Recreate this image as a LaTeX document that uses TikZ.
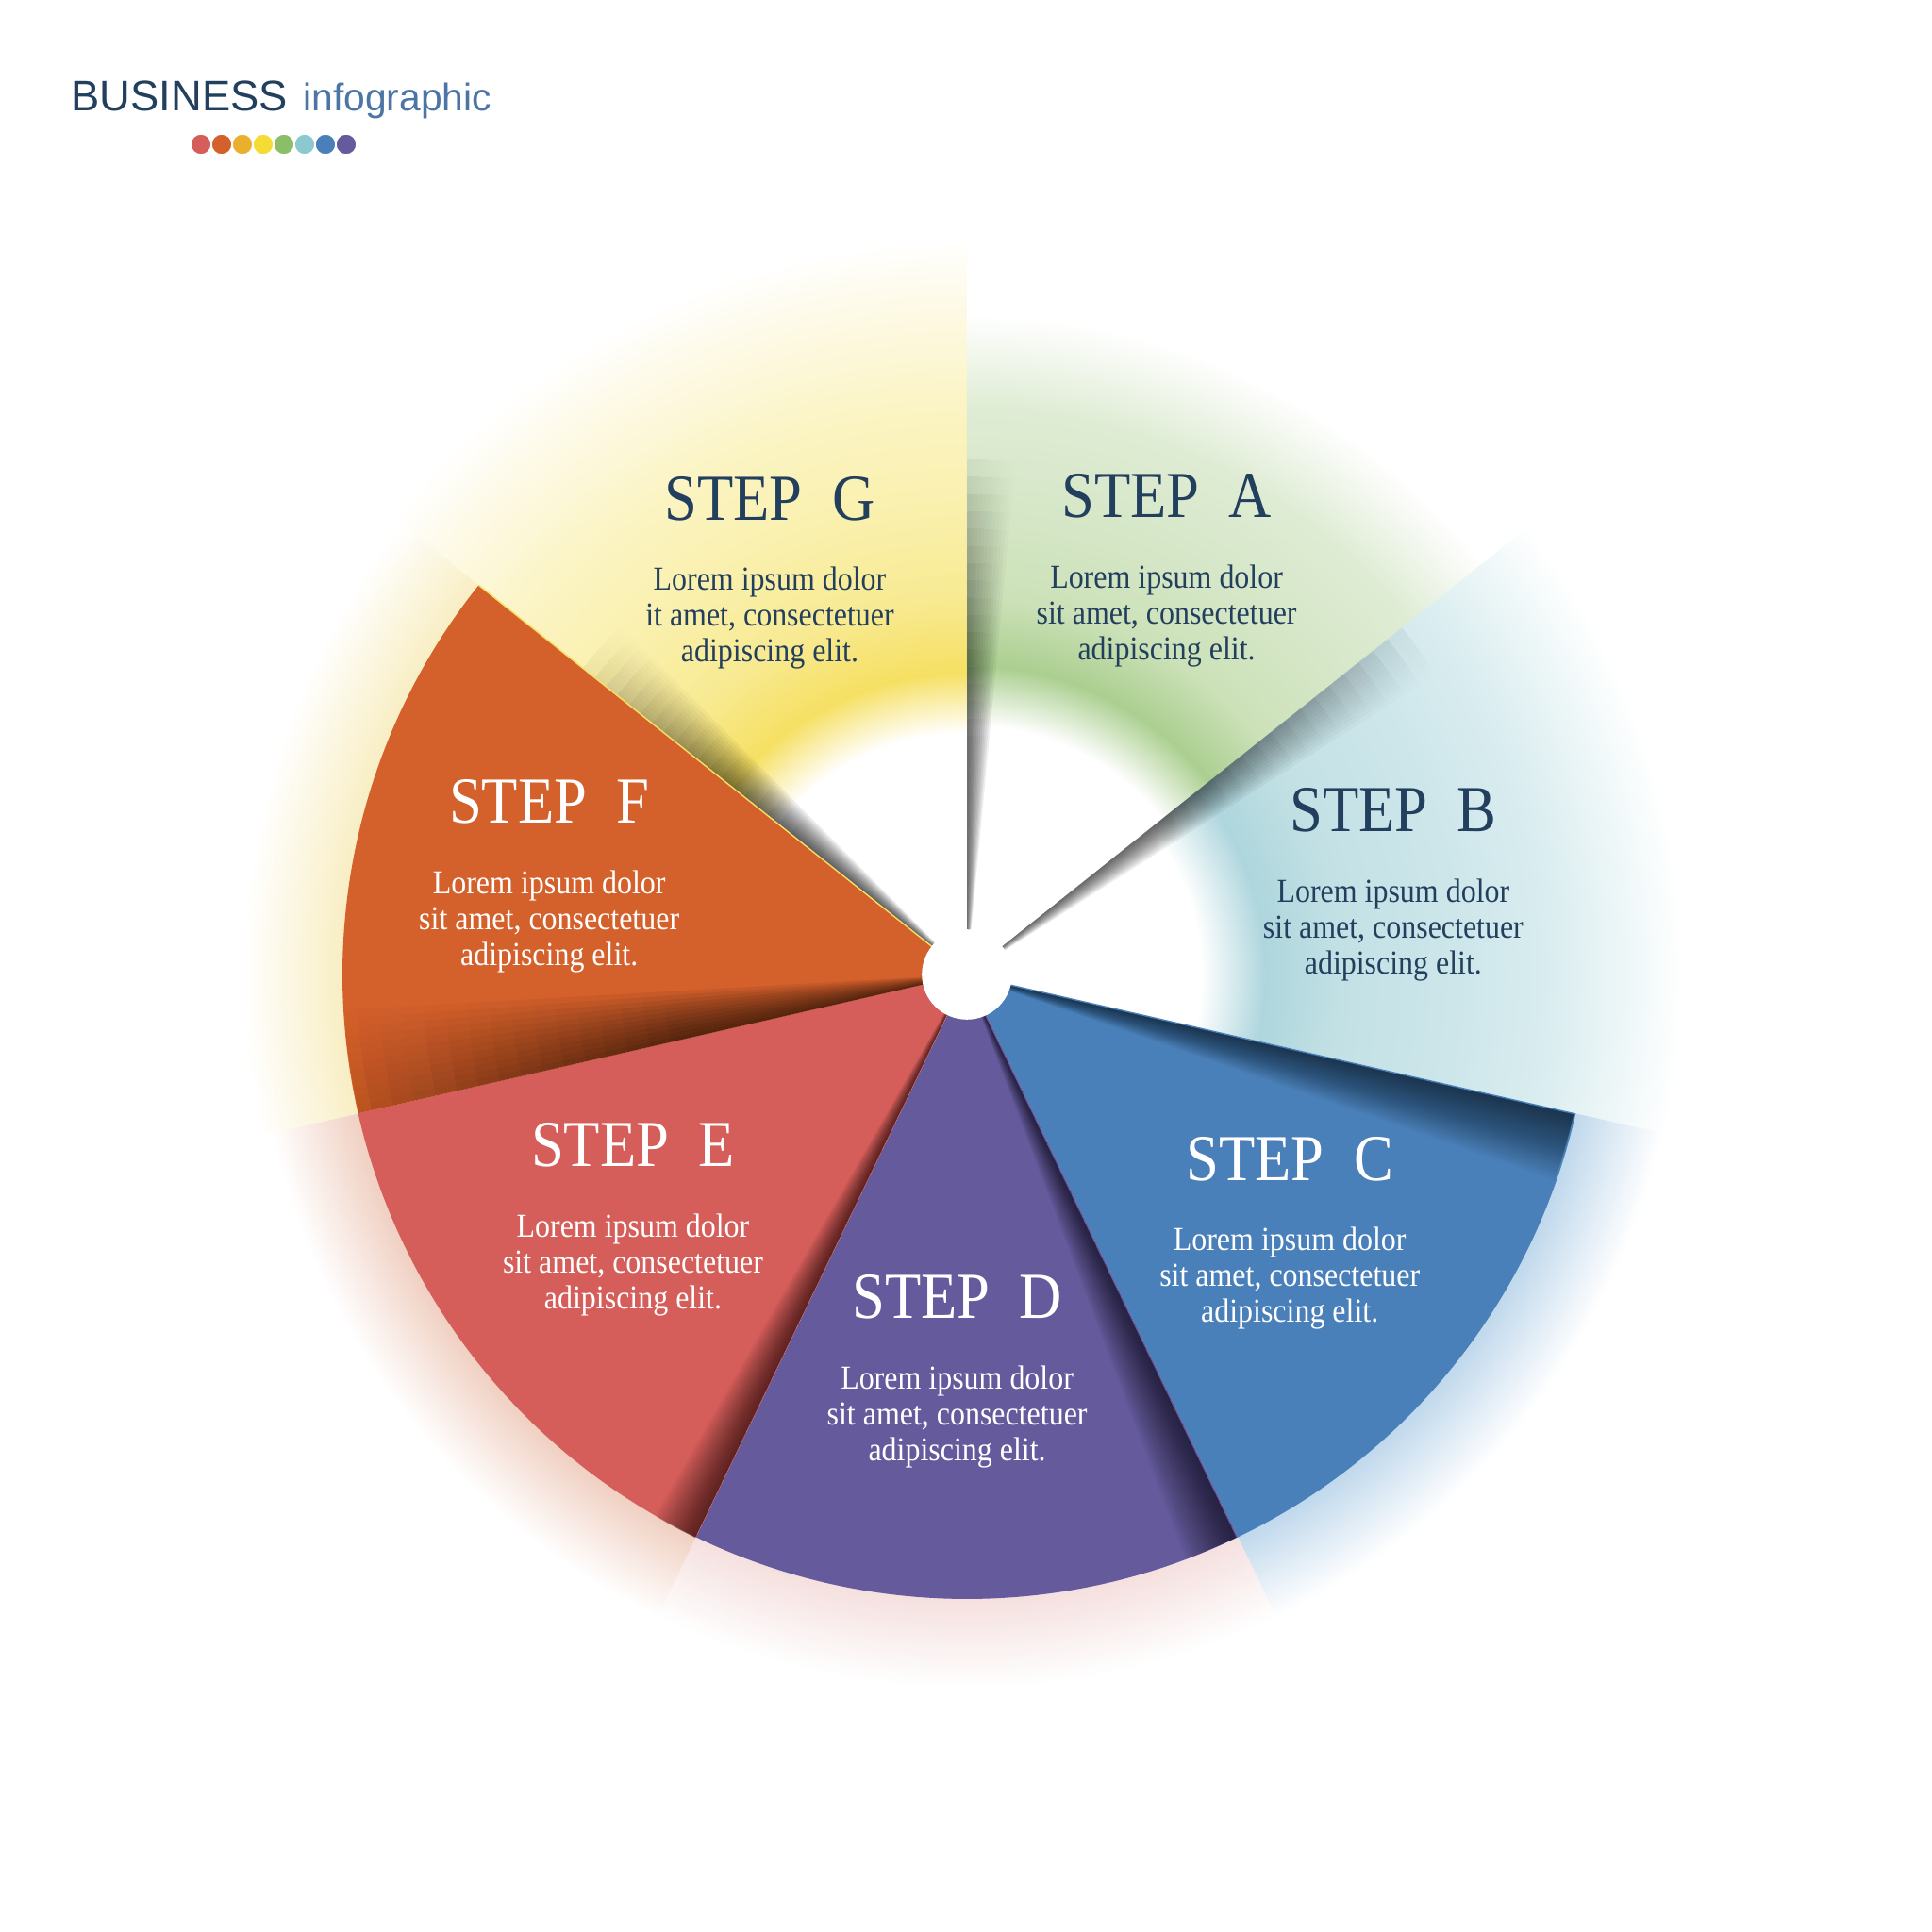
\documentclass[tikz,border=0pt]{standalone}
\usepackage{fontspec}
\usepackage{xcolor}
\usepackage{tikz}
\usetikzlibrary{positioning,fadings}
\setmainfont{Liberation Serif}
\newfontfamily\stepfont[FakeStretch=0.9]{Liberation Serif}
\newfontfamily\headfont{Liberation Sans}

\definecolor{navy}{HTML}{233F5E}
\definecolor{infoblue}{HTML}{4C75A5}
\definecolor{segC}{HTML}{4A80BA}
\definecolor{segD}{HTML}{655A9C}
\definecolor{segE}{HTML}{D55E5A}
\definecolor{segF}{HTML}{D4602B}
\definecolor{dotR}{HTML}{D65E5A}
\definecolor{dotO}{HTML}{D4602B}
\definecolor{dotAm}{HTML}{EBAF30}
\definecolor{dotY}{HTML}{F5DC35}
\definecolor{dotG}{HTML}{8BBE68}
\definecolor{dotCy}{HTML}{8CC8CF}
\definecolor{dotB}{HTML}{4A7FBA}
\definecolor{dotP}{HTML}{645A9C}
\definecolor{yelA}{HTML}{F6E063}
\definecolor{yelB}{HTML}{F8EA92}
\definecolor{yelC}{HTML}{FAF0AE}
\definecolor{yelD}{HTML}{FBF4C3}
\definecolor{yelE}{HTML}{FDF9E3}
\definecolor{grnA}{HTML}{ABCF90}
\definecolor{grnB}{HTML}{CCE1B8}
\definecolor{grnC}{HTML}{D6E7C8}
\definecolor{grnD}{HTML}{DFECD4}
\definecolor{cyaA}{HTML}{AED6DD}
\definecolor{cyaB}{HTML}{C3E1E5}
\definecolor{cyaC}{HTML}{CDE6EA}
\definecolor{cyaD}{HTML}{DAEDF0}
\definecolor{cyaE}{HTML}{EEF7F8}
\definecolor{hC}{HTML}{BCD6EB}
\definecolor{hD}{HTML}{F4DEDD}
\definecolor{hE}{HTML}{EFCDBE}
\definecolor{hF}{HTML}{F8EDC0}

\pgfdeclareradialshading{haloG}{\pgfpoint{0bp}{0bp}}{color(0bp)=(white); color(6.4bp)=(white);
  color(8bp)=(yelA); color(10bp)=(yelB); color(12.5bp)=(yelC); color(15bp)=(yelD);
  color(17.5bp)=(yelE); color(19.5bp)=(white); color(50bp)=(white)}
\pgfdeclareradialshading{haloA}{\pgfpoint{0bp}{0bp}}{color(0bp)=(white); color(6.6bp)=(white);
  color(8.2bp)=(grnA); color(10bp)=(grnB); color(12.5bp)=(grnC); color(15bp)=(grnD);
  color(17.5bp)=(white); color(50bp)=(white)}
\pgfdeclareradialshading{haloB}{\pgfpoint{0bp}{0bp}}{color(0bp)=(white); color(6.2bp)=(white);
  color(7.9bp)=(cyaA); color(10bp)=(cyaB); color(13bp)=(cyaC); color(15.5bp)=(cyaD);
  color(17.5bp)=(cyaE); color(19bp)=(white); color(50bp)=(white)}
\pgfdeclareradialshading{haloC}{\pgfpoint{0bp}{0bp}}{color(0bp)=(hC); color(16.4bp)=(hC);
  color(18.9bp)=(white); color(50bp)=(white)}
\pgfdeclareradialshading{haloD}{\pgfpoint{0bp}{0bp}}{color(0bp)=(hD); color(16.4bp)=(hD);
  color(18.9bp)=(white); color(50bp)=(white)}
\pgfdeclareradialshading{haloE}{\pgfpoint{0bp}{0bp}}{color(0bp)=(hE); color(16.4bp)=(hE);
  color(18.9bp)=(white); color(50bp)=(white)}
\pgfdeclareradialshading{haloF}{\pgfpoint{0bp}{0bp}}{color(0bp)=(hF); color(16.4bp)=(hF);
  color(19.2bp)=(white); color(50bp)=(white)}
\pgfdeclareradialshading{shfadeshade}{\pgfpoint{0bp}{0bp}}{color(0bp)=(white); color(11bp)=(white);
  color(25bp)=(black); color(50bp)=(black)}
\pgfdeclarefading{shfade}{\pgfuseshading{shfadeshade}}

\begin{document}
\begin{tikzpicture}[
  stitle/.style={font=\stepfont\fontsize{19.8}{22}\selectfont, inner sep=0pt},
  sbody/.style={font=\stepfont\fontsize{10.1}{10.8}\selectfont, align=center, inner sep=0pt},
  dot/.style={circle, draw=white, line width=0.3pt, minimum size=2.16mm, inner sep=0pt}]
\useasboundingbox (-10.25,-10.15) rectangle (10.23,10.33);
\fill[white] (-10.25,-10.15) rectangle (10.23,10.33);
\foreach \s/\e/\h in {90/141.429/haloG, 38.571/90/haloA, -12.857/38.571/haloB,
    -64.286/-12.857/haloC, -115.714/-64.286/haloD, -167.143/-115.714/haloE,
    -218.571/-167.143/haloF}{
  \begin{scope}
    \clip (0,0) -- (\s:12) arc[start angle=\s, end angle=\e, radius=12] -- cycle;
    \shade[shading=\h] (0,0) circle (10);
  \end{scope}
}
\foreach \s/\e/\c in {-64.286/-12.857/segC, -115.714/-64.286/segD,
    -167.143/-115.714/segE, -218.571/-167.143/segF}
  \fill[\c] (0,0) -- (\s:6.62) arc[start angle=\s, end angle=\e, radius=6.62] -- cycle;
\foreach \a/\rr/\d/\o/\sc/\n in {90/6.0/0.45/0.065/6.3/12, 38.571/6.2/0.5/0.065/6.8/12,
    141.429/5.8/0.55/0.075/6.0/12, -12.857/6.61/0.21/0.023/30/30, -64.286/6.61/0.17/0.023/30/30,
    -115.714/6.61/0.14/0.023/30/30, 192.857/6.61/0.8/0.065/8/12}
  \foreach \k in {1,...,\n}
    \fill[black, opacity=\o, path fading=shfade, fit fading=false, fading transform={scale=\sc}]
      (0,0) -- (\a:\rr) arc[start angle=\a, end angle=\a-\k*\d, radius=\rr] -- cycle;
\draw[yelA, line width=0.4pt] (0,0) -- (141.429:6.62);
\node[circle, fill=white, minimum size=9.56mm, inner sep=0pt] (hole) at (0,0) {};

\node[stitle, text=navy, anchor=base] (tG) at (-2.09,4.82) {STEP~~G};
\node[sbody, text=navy, below=0.495cm of tG.base] (bG) {Lorem ipsum dolor\\it amet, consectetuer\\adipiscing elit.};
\node[stitle, text=navy, anchor=base] (tA) at (2.116,4.846) {STEP~~A};
\node[sbody, text=navy, below=0.495cm of tA.base] (bA) {Lorem ipsum dolor\\sit amet, consectetuer\\adipiscing elit.};
\node[stitle, text=navy, anchor=base] (tB) at (4.519,1.515) {STEP~~B};
\node[sbody, text=navy, below=0.495cm of tB.base] (bB) {Lorem ipsum dolor\\sit amet, consectetuer\\adipiscing elit.};
\node[stitle, text=white, anchor=base] (tC) at (3.422,-2.181) {STEP~~C};
\node[sbody, text=white, below=0.495cm of tC.base] (bC) {Lorem ipsum dolor\\sit amet, consectetuer\\adipiscing elit.};
\node[stitle, text=white, anchor=base] (tD) at (-0.104,-3.644) {STEP~~D};
\node[sbody, text=white, below=0.495cm of tD.base] (bD) {Lorem ipsum dolor\\sit amet, consectetuer\\adipiscing elit.};
\node[stitle, text=white, anchor=base] (tE) at (-3.540,-2.037) {STEP~~E};
\node[sbody, text=white, below=0.495cm of tE.base] (bE) {Lorem ipsum dolor\\sit amet, consectetuer\\adipiscing elit.};
\node[stitle, text=white, anchor=base] (tF) at (-4.428,1.607) {STEP~~F};
\node[sbody, text=white, below=0.495cm of tF.base] (bF) {Lorem ipsum dolor\\sit amet, consectetuer\\adipiscing elit.};

\node[font=\headfont\fontsize{12.9}{14}\selectfont, text=navy, inner sep=0pt, anchor=base west] (biz) at (-9.50,9.155) {BUSINESS};
\node[font=\headfont\fontsize{11.6}{13}\selectfont, text=infoblue, inner sep=0pt, right=0.15cm of biz.base east, anchor=base west] (info) {infographic};
\foreach \c [count=\i from 0] in {dotR, dotO, dotAm, dotY, dotG, dotCy, dotB, dotP}
  \node[dot, fill=\c] (d\i) at (-8.12+\i*0.22, 8.80) {};
\end{tikzpicture}
\end{document}
